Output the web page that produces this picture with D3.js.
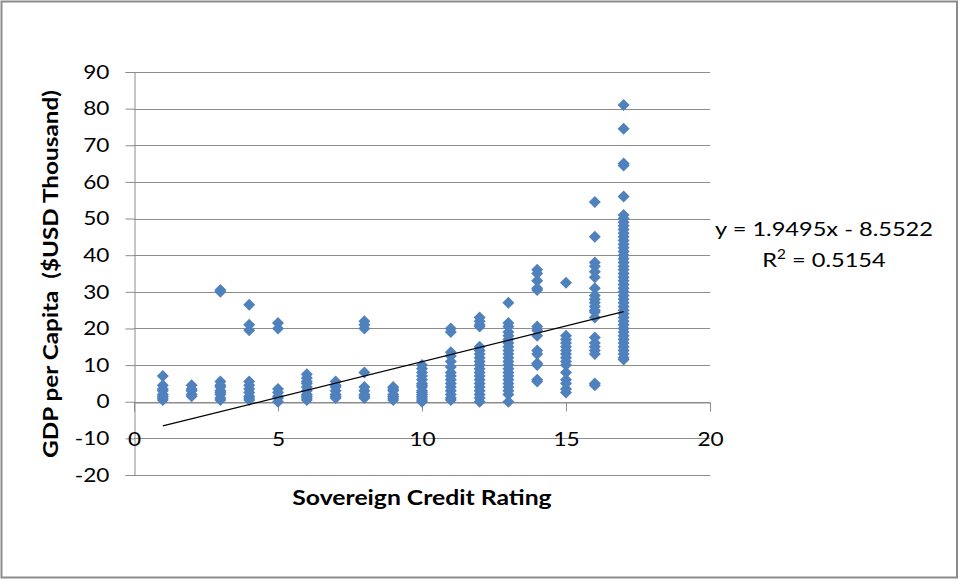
<!DOCTYPE html>
<html><head><meta charset="utf-8">
<script src="https://cdn.jsdelivr.net/npm/d3@7"></script>
<style>body{margin:0;background:#fff}</style>
</head><body>
<svg id="chart" width="960" height="582"></svg>
<script>
// Sovereign credit rating (x) and GDP per capita in $USD thousand (y), grouped per rating
const ratings = [1,2,3,4,5,6,7,8,9,10,11,12,13,14,15,16,17];
const gdp = [
  [7, 4.5, 3.5, 3, 2, 1.5, 1, 0.5],
  [4.5, 3.5, 3, 2, 1.5],
  [30.5, 30, 5.5, 4.5, 4, 3, 2.5, 2, 1, 0.5],
  [26.5, 21, 19.5, 5.5, 4.5, 3.5, 2.5, 1.5, 1, 0.5],
  [21.5, 20, 3.5, 2.5, 1.5, 1, 0],
  [7.5, 6.5, 5.5, 5, 4, 3, 2, 1.5, 1, 0.5],
  [5.5, 4.5, 4, 3, 2, 1.5, 1],
  [22, 21, 20, 8, 4, 3, 2, 1.5, 1],
  [4, 3.5, 3, 2, 1.5, 1, 0.5],
  [10, 9, 8, 7, 6, 5, 4.5, 4, 3, 2.5, 2, 1.5, 1, 0.5, 0],
  [20, 19, 13.5, 12.5, 11, 9.5, 8, 7, 6, 5, 4, 3, 2, 1, 0.5],
  [23, 22, 21, 20.5, 15, 14, 13, 12, 11, 10, 9, 8, 7, 6, 5, 4, 3, 2, 1, 0],
  [27, 21.5, 20.5, 19, 18, 17, 16, 15, 14, 13, 12, 11, 10, 9, 8, 7, 6, 5, 4, 3, 2, 0],
  [36, 35, 33, 31, 30.5, 20.5, 19.5, 18, 14, 13, 10.5, 10, 6, 5.5],
  [32.5, 18, 17, 16, 15, 14, 13, 12, 11, 10, 8, 6, 5, 3.5, 2.5],
  [54.5, 45, 38, 37, 35.5, 34, 31, 29, 28, 27, 26, 25, 24.5, 23, 17.5, 16, 15, 14, 13, 5, 4.5],
  [81, 74.5, 65, 64.5, 56, 51, 50, 49, 48, 47, 46, 45, 44, 43, 42, 41, 40, 39, 38, 37, 36, 35, 34, 33, 32, 31, 30, 29, 28, 27, 26, 25, 24, 23, 22, 21, 20, 19, 18, 17, 16, 15, 14, 13, 12, 11.5]
];
const xTicks = [0, 5, 10, 15, 20];
const yTicks = [-20, -10, 0, 10, 20, 30, 40, 50, 60, 70, 80, 90];
const slope = 1.9495, intercept = -8.5522;
const eqText = "y = 1.9495x - 8.5522";
const r2Value = "0.5154";
const xTitle = "Sovereign Credit Rating";
const yTitle = "GDP per Capita  ($USD Thousand)";

const points = [];
ratings.forEach((r, i) => gdp[i].forEach(v => points.push({x: r, y: v})));

const svg = d3.select("#chart");
const font = "Lato, 'Open Sans', sans-serif";
const SX = 1.16; // horizontal stretch of the text in the original
const fmt = d => String(d); // plain hyphen for negatives

svg.append("rect").attr("x", 1.5).attr("y", 1.5).attr("width", 955.5).attr("height", 576)
  .attr("fill", "#fff").attr("stroke", "#8c8c8c").attr("stroke-width", 2);

const x = d3.scaleLinear().domain([0, 20]).range([134, 710]);
const y = d3.scaleLinear().domain([-20, 90]).range([475, 72]);

// gridlines
svg.append("g").selectAll("line").data(yTicks).join("line")
  .attr("x1", x(0)).attr("x2", x(20))
  .attr("y1", d => Math.round(y(d)) + 0.5).attr("y2", d => Math.round(y(d)) + 0.5)
  .attr("stroke", "#8c8c8c").attr("stroke-width", 1);

// y axis
const yAxis = svg.append("g").attr("transform", `translate(${x(0) + 0.5},0)`)
  .call(d3.axisLeft(y).tickValues(yTicks).tickSize(9).tickPadding(0).tickFormat(fmt));
yAxis.select(".domain").attr("stroke", "#8c8c8c");
yAxis.selectAll(".tick line").attr("stroke", "#8c8c8c");
yAxis.selectAll("text").attr("font-family", font).attr("font-size", 19.5).attr("fill", "#000")
  .attr("x", null).attr("transform", `translate(-25,0) scale(${SX},1)`);

// x axis at y = 0
const xAxis = svg.append("g").attr("transform", `translate(0,${Math.round(y(0)) + 0.5})`)
  .call(d3.axisBottom(x).tickValues(xTicks).tickSize(9).tickPadding(21).tickFormat(fmt));
xAxis.select(".domain").attr("stroke", "#8c8c8c");
xAxis.selectAll(".tick line").attr("stroke", "#8c8c8c");
xAxis.selectAll("text").attr("font-family", font).attr("font-size", 19.5).attr("fill", "#000")
  .attr("transform", `scale(${SX},1)`);

// points
svg.append("g").selectAll("path").data(points).join("path")
  .attr("d", d3.symbol(d3.symbolSquare, 72))
  .attr("transform", d => `translate(${x(d.x)},${y(d.y)}) rotate(45)`)
  .attr("fill", "#4f81bd");

// trendline
const tl = [1, 17];
svg.append("line")
  .attr("x1", x(tl[0])).attr("y1", y(slope * tl[0] + intercept))
  .attr("x2", x(tl[1])).attr("y2", y(slope * tl[1] + intercept))
  .attr("stroke", "#000").attr("stroke-width", 1.2);

// equation
svg.append("text").attr("transform", `translate(824,236) scale(1.18,1)`).attr("text-anchor", "middle")
  .attr("font-family", font).attr("font-size", 20).text(eqText);
const r2 = svg.append("text").attr("transform", `translate(824,267) scale(1.18,1)`).attr("text-anchor", "middle")
  .attr("font-family", font).attr("font-size", 20);
r2.append("tspan").text("R");
r2.append("tspan").attr("font-size", 13).attr("dy", -8).text("2");
r2.append("tspan").attr("dy", 8).text(" = " + r2Value);

// axis titles
svg.append("text").attr("transform", `translate(422,505) scale(1.15,1)`).attr("text-anchor", "middle")
  .attr("font-family", font).attr("font-weight", "bold").attr("font-size", 21.5).text(xTitle);
svg.append("text").attr("transform", `translate(58,274) rotate(-90) scale(1.13,1)`).attr("text-anchor", "middle")
  .style("white-space", "pre")
  .attr("font-family", font).attr("font-weight", "bold").attr("font-size", 21.5).text(yTitle);
</script>
</body></html>
